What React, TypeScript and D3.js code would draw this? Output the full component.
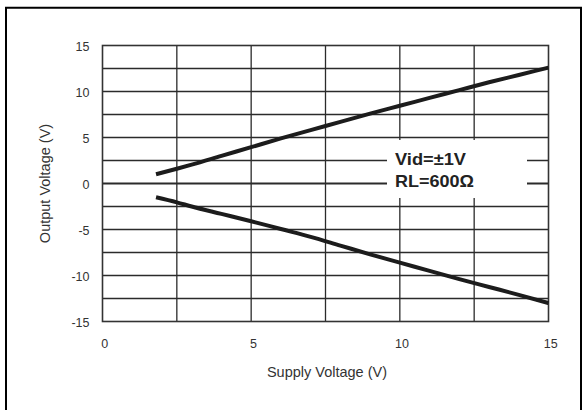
import React from 'react';
import * as d3 from 'd3';

const supplyV = [1.8, 2.5, 3, 4, 5, 6, 7, 8, 9, 10, 11, 12, 13, 14, 15];
const voutHigh = [1.0, 1.6, 2.05, 3.0, 3.95, 4.9, 5.8, 6.7, 7.6, 8.45, 9.3, 10.15, 11.0, 11.8, 12.6];
const voutLow = [-1.5, -2.05, -2.5, -3.3, -4.1, -4.95, -5.8, -6.75, -7.7, -8.6, -9.5, -10.4, -11.25, -12.1, -13.0];
const xTicks = [0, 5, 10, 15];
const yTicks = [-15, -10, -5, 0, 5, 10, 15];
const xGrid = [2.5, 5, 7.5, 10, 12.5];
const yGrid = [-12.5, -10, -7.5, -5, -2.5, 0, 2.5, 5, 7.5, 10, 12.5];
const xTitle = 'Supply Voltage (V)';
const yTitle = 'Output Voltage (V)';
const noteLines = ['Vid=±1V', 'RL=600Ω'];

const W = 586, H = 410;
const L = 102.5, R = 548.5, T = 45.5, B = 321.5;
const FONT = "'Liberation Sans', Arial, Helvetica, sans-serif";

export default function App() {
  const x = d3.scaleLinear().domain([0, 15]).range([L, R]);
  const y = d3.scaleLinear().domain([-15, 15]).range([B, T]);
  const line = d3
    .line<number>()
    .x((_, i) => x(supplyV[i]))
    .y((d) => y(d))
    .curve(d3.curveMonotoneX);
  const gridColor = '#2b2b2b';
  return (
    <svg width={W} height={H} style={{ position: 'absolute', left: 0, top: 0, background: '#fff' }}>
      <rect x={0} y={0} width={W} height={H} fill="#fff" />
      {/* outer frame */}
      <path d={`M6,${H} V7.7 H581 V${H}`} fill="none" stroke="#000" strokeWidth={2} />
      {/* grid */}
      {xGrid.map((v) => (
        <line key={'xg' + v} x1={x(v)} x2={x(v)} y1={T} y2={B} stroke={gridColor} strokeWidth={1.3} />
      ))}
      {yGrid.map((v) => (
        <line key={'yg' + v} x1={L} x2={R} y1={y(v)} y2={y(v)} stroke={gridColor} strokeWidth={v === 0 ? 1.8 : 1.3} />
      ))}
      <rect x={L} y={T} width={R - L} height={B - T} fill="none" stroke="#333" strokeWidth={1.6} />
      {/* annotation box */}
      <rect x={387} y={140} width={140} height={58} fill="#fff" />
      <text x={395} y={165} fontFamily={FONT} fontWeight="bold" fontSize={16.5} fill="#222" textLength={71} lengthAdjust="spacingAndGlyphs">{noteLines[0]}</text>
      <text x={395} y={187} fontFamily={FONT} fontWeight="bold" fontSize={16.5} fill="#222" textLength={79} lengthAdjust="spacingAndGlyphs">{noteLines[1]}</text>
      {/* curves */}
      <path d={line(voutHigh) || ''} fill="none" stroke="#1c1c1c" strokeWidth={4} strokeLinejoin="round" />
      <path d={line(voutLow) || ''} fill="none" stroke="#1c1c1c" strokeWidth={4} strokeLinejoin="round" />
      {/* tick labels */}
      {yTicks.map((v) => (
        <text key={'yt' + v} x={89.5} y={y(v) + 5.5} textAnchor="end" fontFamily={FONT} fontSize={12.5} fill="#333">{v}</text>
      ))}
      {xTicks.map((v) => (
        <text key={'xt' + v} x={x(v) + 2.2} y={348} textAnchor="middle" fontFamily={FONT} fontSize={12.5} fill="#333">{v}</text>
      ))}
      <text x={327} y={377} textAnchor="middle" fontFamily={FONT} fontSize={14.5} fill="#333">{xTitle}</text>
      <text transform={`translate(50,${(T + B) / 2}) rotate(-90)`} textAnchor="middle" fontFamily={FONT} fontSize={14.5} fill="#333">{yTitle}</text>
    </svg>
  );
}
